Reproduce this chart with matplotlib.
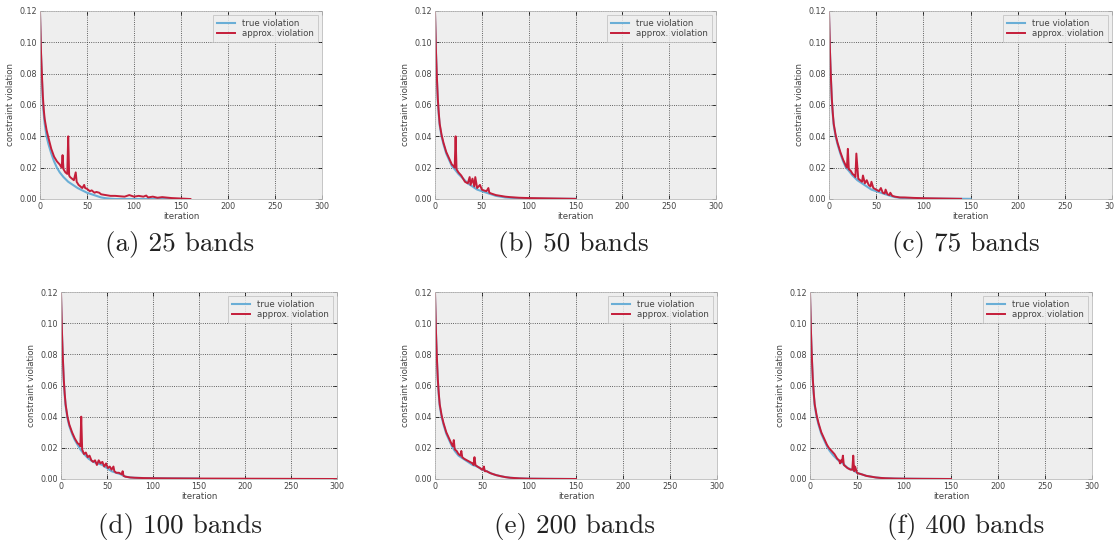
import matplotlib
matplotlib.use("Agg")
import matplotlib.pyplot as plt

# Panel captions
CAPTIONS = ["(a) 25 bands", "(b) 50 bands", "(c) 75 bands",
            "(d) 100 bands", "(e) 200 bands", "(f) 400 bands"]

# approx. violation (iteration, value)
APPROX_A_X = [0, 1, 2, 3, 4, 5, 7, 9, 12, 15, 18, 21, 23, 24, 25, 27, 29, 30, 31, 32, 34, 36, 38, 39,
              41, 43, 45, 47, 48, 50, 53, 55, 58, 60, 63, 65, 70, 75, 80, 90, 95, 100, 105, 110, 113,
              115, 120, 125, 130, 140, 150, 160]
APPROX_A_Y = [0.12, 0.095, 0.080, 0.066, 0.057, 0.051, 0.044, 0.039, 0.032, 0.027, 0.024, 0.022, 0.020,
              0.028, 0.019, 0.017, 0.016, 0.040, 0.015, 0.014, 0.013, 0.012, 0.017, 0.011,
              0.009, 0.008, 0.007, 0.009, 0.007, 0.0065, 0.005, 0.0055, 0.004, 0.0045, 0.004, 0.003,
              0.0025, 0.002, 0.002, 0.0015, 0.0025, 0.0015, 0.002, 0.0015, 0.0022, 0.001,
              0.0015, 0.0008, 0.0012, 0.0006, 0.0003, 0.0]

APPROX_B_X = [0, 1, 2, 3, 4, 5, 7, 9, 12, 15, 18, 20, 21, 22, 23, 25, 28, 30, 32, 35, 37, 38, 40, 42,
              43, 45, 48, 50, 52, 55, 57, 58, 60, 65, 70, 75, 80, 90, 100, 110, 120, 130, 140, 150]
APPROX_B_Y = [0.12, 0.095, 0.078, 0.064, 0.055, 0.048, 0.041, 0.036, 0.030, 0.026, 0.022, 0.021, 0.020,
              0.040, 0.019, 0.017, 0.015, 0.013, 0.011, 0.010, 0.014, 0.009, 0.013, 0.008,
              0.014, 0.007, 0.009, 0.006, 0.0055, 0.005, 0.007, 0.004, 0.0035, 0.0025, 0.002, 0.0015,
              0.0012, 0.0008, 0.0006, 0.0005, 0.0004, 0.0003, 0.0002, 0.0001]

APPROX_C_X = [0, 1, 2, 3, 4, 5, 7, 9, 12, 15, 18, 19, 20, 21, 23, 25, 27, 28, 29, 31, 33, 35, 36, 38,
              40, 42, 44, 45, 47, 50, 53, 55, 57, 59, 60, 62, 64, 65, 67, 70, 75, 80, 90, 100, 110,
              120, 130, 140]
APPROX_C_Y = [0.12, 0.095, 0.078, 0.064, 0.055, 0.048, 0.041, 0.036, 0.030, 0.025, 0.021, 0.020, 0.032,
              0.019, 0.018, 0.016, 0.015, 0.014, 0.029, 0.013, 0.012, 0.011, 0.015, 0.010,
              0.012, 0.009, 0.008, 0.011, 0.007, 0.006, 0.005, 0.007, 0.004, 0.0035, 0.006, 0.003,
              0.0025, 0.004, 0.002, 0.0015, 0.001, 0.001, 0.0007, 0.0005, 0.0004,
              0.0003, 0.0002, 0.0001]

APPROX_D_X = [0, 1, 2, 3, 4, 5, 7, 9, 12, 15, 18, 20, 21, 22, 23, 25, 27, 29, 31, 33, 35, 37, 39, 41,
              43, 45, 47, 49, 51, 53, 55, 57, 58, 60, 63, 66, 67, 68, 70, 75, 80, 90, 100, 120, 150,
              200, 250, 300]
APPROX_D_Y = [0.12, 0.095, 0.078, 0.064, 0.055, 0.048, 0.040, 0.035, 0.030, 0.026, 0.023, 0.022, 0.021,
              0.040, 0.019, 0.016, 0.017, 0.014, 0.015, 0.012, 0.011, 0.012, 0.009, 0.012,
              0.010, 0.011, 0.008, 0.010, 0.007, 0.008, 0.006, 0.008, 0.005, 0.004, 0.004, 0.003,
              0.005, 0.002, 0.0015, 0.001, 0.0008, 0.0006, 0.0005, 0.0004, 0.0003,
              0.0002, 0.0001, 0.0]

APPROX_E_X = [0, 1, 2, 3, 4, 5, 7, 9, 12, 15, 18, 19, 20, 21, 23, 25, 27, 28, 29, 31, 34, 37, 40, 41,
              42, 43, 45, 48, 50, 51, 52, 53, 55, 58, 60, 65, 70, 75, 80, 90, 100, 120, 150]
APPROX_E_Y = [0.12, 0.095, 0.078, 0.064, 0.055, 0.048, 0.041, 0.036, 0.030, 0.026, 0.022, 0.021, 0.025,
              0.019, 0.018, 0.016, 0.015, 0.018, 0.014, 0.013, 0.012, 0.011, 0.010, 0.009,
              0.014, 0.009, 0.008, 0.007, 0.006, 0.006, 0.008, 0.005, 0.005, 0.004, 0.0035, 0.0025,
              0.0018, 0.0012, 0.0008, 0.0004, 0.0002, 0.0001, 0.0]

APPROX_F_X = [0, 1, 2, 3, 4, 5, 7, 9, 12, 15, 18, 20, 23, 26, 29, 31, 32, 33, 34, 35, 36, 38, 40, 43,
              45, 46, 47, 48, 50, 52, 55, 60, 65, 70, 75, 80, 90, 100, 120, 150]
APPROX_F_Y = [0.12, 0.095, 0.078, 0.064, 0.055, 0.048, 0.041, 0.036, 0.030, 0.026, 0.022, 0.020, 0.018,
              0.016, 0.013, 0.012, 0.010, 0.012, 0.011, 0.015, 0.009, 0.008, 0.007, 0.006,
              0.006, 0.015, 0.005, 0.008, 0.004, 0.0035, 0.003, 0.002, 0.0015, 0.001, 0.0007,
              0.0005, 0.0003, 0.0002, 0.0001, 0.0]

# true violation, smooth curves on a shared iteration grid
TRUE_X = [0, 1, 2, 3, 4, 5, 7, 9, 12, 15, 18, 21, 25, 30, 35, 40, 45, 50, 55, 60, 65, 70, 75, 80,
          90, 100, 120, 150]
TRUE_A = [0.118, 0.093, 0.077, 0.062, 0.054, 0.048, 0.040, 0.035, 0.029, 0.024, 0.020, 0.017, 0.014,
          0.011, 0.009, 0.007, 0.0055, 0.004, 0.003, 0.002, 0.001, 0.0005, 0.0002, 0.0, 0.0, 0.0,
          0.0, 0.0]
TRUE_B = [0.118, 0.094, 0.077, 0.063, 0.054, 0.047, 0.040, 0.035, 0.029, 0.025, 0.021, 0.019, 0.016,
          0.013, 0.010, 0.008, 0.006, 0.005, 0.004, 0.003, 0.002, 0.0015, 0.001, 0.0008, 0.0005,
          0.0003, 0.0002, 0.0001]
TRUE_C = [0.118, 0.094, 0.077, 0.063, 0.054, 0.047, 0.040, 0.035, 0.029, 0.024, 0.020, 0.018, 0.015,
          0.012, 0.010, 0.008, 0.006, 0.005, 0.004, 0.003, 0.002, 0.0012, 0.0008, 0.0006, 0.0004,
          0.0003, 0.0002, 0.0001]
TRUE_D = [0.118, 0.094, 0.077, 0.063, 0.054, 0.047, 0.039, 0.034, 0.029, 0.025, 0.022, 0.019, 0.016,
          0.013, 0.011, 0.010, 0.009, 0.007, 0.005, 0.004, 0.003, 0.0015, 0.001, 0.0008, 0.0006,
          0.0005, 0.0004, 0.0003]
TRUE_E = [0.118, 0.094, 0.077, 0.063, 0.054, 0.047, 0.040, 0.035, 0.029, 0.025, 0.021, 0.018, 0.015,
          0.013, 0.011, 0.009, 0.008, 0.006, 0.005, 0.0035, 0.0025, 0.0018, 0.0012, 0.0008, 0.0004,
          0.0002, 0.0001, 0.0]
TRUE_F = [0.118, 0.094, 0.077, 0.063, 0.054, 0.047, 0.040, 0.035, 0.029, 0.025, 0.021, 0.018, 0.015,
          0.012, 0.010, 0.007, 0.006, 0.004, 0.003, 0.002, 0.0015, 0.001, 0.0007, 0.0005, 0.0003,
          0.0002, 0.0001, 0.0]

APPROX = [(APPROX_A_X, APPROX_A_Y), (APPROX_B_X, APPROX_B_Y), (APPROX_C_X, APPROX_C_Y),
          (APPROX_D_X, APPROX_D_Y), (APPROX_E_X, APPROX_E_Y), (APPROX_F_X, APPROX_F_Y)]
TRUE = [TRUE_A, TRUE_B, TRUE_C, TRUE_D, TRUE_E, TRUE_F]

X_TICKS = [0, 50, 100, 150, 200, 250, 300]
Y_TICKS = [0.00, 0.02, 0.04, 0.06, 0.08, 0.10, 0.12]

# axes rectangles in pixels (left, top, right, bottom) of the 1114x548 figure
W, H = 1114, 548
BOXES = [(40, 11, 322, 199), (435, 11, 716, 199), (829, 11, 1112, 199),
         (61, 292, 337, 479), (435, 292, 717, 479), (810, 292, 1092, 479)]
CAPTION_POS = [(180, 245), (573, 245), (966, 245), (180, 527), (575, 527), (966, 527)]

TRUE_COLOR = "#6aaed6"
APPROX_COLOR = "#c41e3a"

fig = plt.figure(figsize=(W / 100, H / 100), dpi=100)

for i in range(6):
    l, t, r, b = BOXES[i]
    ax = fig.add_axes([l / W, 1 - b / H, (r - l) / W, (b - t) / H])
    ax.set_facecolor("#eeeeee")
    ax.plot(TRUE_X, TRUE[i], color=TRUE_COLOR, lw=1.5, label="true violation")
    ax.plot(APPROX[i][0], APPROX[i][1], color=APPROX_COLOR, lw=1.4, label="approx. violation")
    ax.set_xlim(0, 300)
    ax.set_ylim(0, 0.12)
    ax.set_xticks(X_TICKS)
    ax.set_yticks(Y_TICKS)
    ax.set_yticklabels([f"{v:.2f}" for v in Y_TICKS])
    ax.grid(True, color="#333333", linestyle=":", linewidth=0.6)
    ax.tick_params(direction="in", top=True, right=True, labelsize=5.8,
                   labelcolor="#444444", length=3, width=0.5, pad=2)
    for s in ax.spines.values():
        s.set_color("#bbbbbb")
        s.set_linewidth(0.6)
    ax.set_xlabel("iteration", fontsize=6.2, color="#444444", labelpad=1)
    ax.set_ylabel("constraint violation", fontsize=6.2, color="#444444", labelpad=3)
    leg = ax.legend(loc="upper right", fontsize=6.2, frameon=True, fancybox=False,
                    handlelength=2.2, borderpad=0.4, labelspacing=0.2)
    leg.get_frame().set_facecolor("#eeeeee")
    leg.get_frame().set_edgecolor("#bbbbbb")
    leg.get_frame().set_linewidth(0.6)
    for txt in leg.get_texts():
        txt.set_color("#444444")

    cx, cy = CAPTION_POS[i]
    fig.text(cx / W, 1 - cy / H, CAPTIONS[i], ha="center", va="center",
             fontsize=19.5, family="cmr10", color="#222222")

fig.savefig("out.png", dpi=100)
